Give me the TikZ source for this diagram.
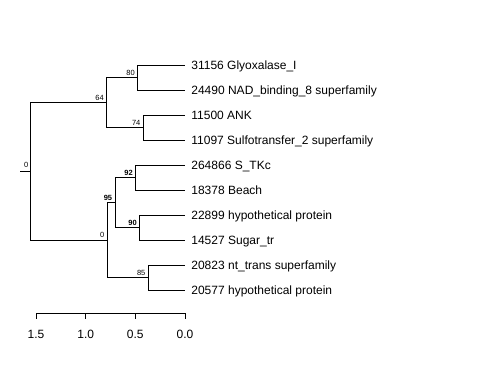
\documentclass[tikz,border=0pt]{standalone}
\usepackage{fontspec}
\setmainfont{Liberation Sans}
\begin{document}
\begin{tikzpicture}[x=1pt, y=-1pt, line width=0.8pt,
    leaf/.style={anchor=west, inner sep=0pt, xshift=6pt, text height=8.6pt, text depth=0pt, font=\fontsize{12}{14}\selectfont},
    boot/.style={anchor=south east, inner xsep=2.5pt, inner ysep=2pt, text height=5.4pt, text depth=0pt, font=\fontsize{7.5}{9}\selectfont},
    bootbold/.style={boot, font=\fontsize{7.5}{9}\selectfont\bfseries},
    scale_lab/.style={inner sep=0pt, text height=8.6pt, text depth=0pt, font=\fontsize{12}{14}\selectfont}]
    \useasboundingbox (0, 0) rectangle (480, 384);

    \coordinate (stem) at (20, 171.25);
    \coordinate (root) at (30.7, 171.25);
    \coordinate (n64) at (106.7, 102.5);
    \coordinate (n80) at (137.7, 77.5);
    \coordinate (n74) at (143.3, 127.5);
    \coordinate (n0) at (107.3, 240);
    \coordinate (n95) at (115, 202.5);
    \coordinate (n92) at (135.7, 177.5);
    \coordinate (n90) at (139.7, 227.5);
    \coordinate (n85) at (148.3, 277.5);

    \coordinate (t1) at (185, 65);
    \coordinate (t2) at (185, 90);
    \coordinate (t3) at (185, 115);
    \coordinate (t4) at (185, 140);
    \coordinate (t5) at (185, 165);
    \coordinate (t6) at (185, 190);
    \coordinate (t7) at (185, 215);
    \coordinate (t8) at (185, 240);
    \coordinate (t9) at (185, 265);
    \coordinate (t10) at (185, 290);

    \node (glyoxalase) at (t1) [leaf] {31156 Glyoxalase\_I};
    \node (nad_binding) at (t2) [leaf] {24490 NAD\_binding\_8 superfamily};
    \node (ank) at (t3) [leaf] {11500 ANK};
    \node (sulfotransfer) at (t4) [leaf] {11097 Sulfotransfer\_2 superfamily};
    \node (s_tkc) at (t5) [leaf] {264866 S\_TKc};
    \node (beach) at (t6) [leaf] {18378 Beach};
    \node (hypo_a) at (t7) [leaf] {22899 hypothetical protein};
    \node (sugar_tr) at (t8) [leaf] {14527 Sugar\_tr};
    \node (nt_trans) at (t9) [leaf] {20823 nt\_trans superfamily};
    \node (hypo_b) at (t10) [leaf] {20577 hypothetical protein};

    \draw (stem) -- (root);
    \draw (root) |- (n64);
    \draw (root) |- (n0);
    \draw (n64) |- (n80);
    \draw (n64) |- (n74);
    \draw (n80) |- (t1);
    \draw (n80) |- (t2);
    \draw (n74) |- (t3);
    \draw (n74) |- (t4);
    \draw (n0) |- (n95);
    \draw (n0) |- (n85);
    \draw (n95) |- (n92);
    \draw (n95) |- (n90);
    \draw (n92) |- (t5);
    \draw (n92) |- (t6);
    \draw (n90) |- (t7);
    \draw (n90) |- (t8);
    \draw (n85) |- (t9);
    \draw (n85) |- (t10);

    \node (boot_root) at (root) [boot, inner xsep=2pt, inner ysep=3pt] {0};
    \node (boot_64) at (n64) [boot] {64};
    \node (boot_80) at (n80) [boot] {80};
    \node (boot_74) at (n74) [boot] {74};
    \node (boot_0) at (n0) [boot] {0};
    \node (boot_95) at (n95) [bootbold] {95};
    \node (boot_92) at (n92) [bootbold] {92};
    \node (boot_90) at (n90) [bootbold] {90};
    \node (boot_85) at (n85) [boot] {85};

    \coordinate (ax_a) at (36, 313);
    \coordinate (ax_b) at (85.7, 313);
    \coordinate (ax_c) at (135.3, 313);
    \coordinate (ax_d) at (185, 313);
    \draw (ax_a) -- (ax_d);
    \draw (ax_a) -- ++(0, 6);
    \draw (ax_b) -- ++(0, 6);
    \draw (ax_c) -- ++(0, 6);
    \draw (ax_d) -- ++(0, 6);
    \node (lab_a) at (36, 334) [scale_lab] {1.5};
    \node (lab_b) at (85.7, 334) [scale_lab] {1.0};
    \node (lab_c) at (135.3, 334) [scale_lab] {0.5};
    \node (lab_d) at (185, 334) [scale_lab] {0.0};
\end{tikzpicture}
\end{document}
